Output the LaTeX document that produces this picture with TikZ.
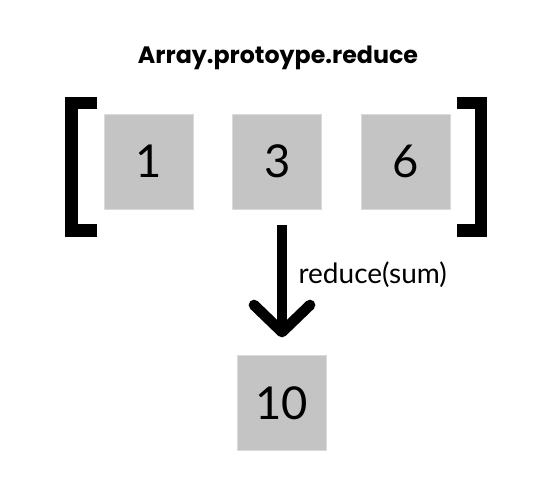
\documentclass[tikz,border=0pt]{standalone}
\usepackage{fontspec}
\setmainfont{Lato}
\newfontfamily\headfont{Poppins}
\usetikzlibrary{positioning}
\definecolor{cellgray}{HTML}{C4C4C4}
\definecolor{celledge}{HTML}{DADADA}

\begin{document}
\begin{tikzpicture}[x=0.75pt, y=-0.75pt,
            cell/.style={fill=cellgray, draw=celledge, line width=0.75pt, minimum width=66.8pt, minimum height=71.4pt, inner sep=0pt, font=\fontsize{34}{34}\selectfont},
            bracket/.style={line width=9.4pt, line join=miter, line cap=butt},
            shaft/.style={line width=7.5pt},
            barb/.style={line width=8pt, line cap=round, line join=round}]
            \useasboundingbox (0,0) rectangle (552,490);

            \node[font=\headfont\bfseries\fontsize{17.8}{17.8}\selectfont, anchor=base, inner sep=0pt] (title) at (278,63.3) {Array.protoype.reduce};

            \node[cell] (one) at (148.8,161.7) {1};
            \node[cell, right=28.9pt of one] (three) {3};
            \node[cell, right=28.9pt of three] (six) {6};
            \node[cell] (ten) at (281.7,402.8) {10};

            \coordinate (LA) at (97,103);
            \coordinate (LB) at (71.25,103);
            \coordinate (LC) at (71.25,230.5);
            \coordinate (LD) at (97,230.5);
            \draw[bracket] (LA) -- (LB) -- (LC) -- (LD);

            \coordinate (RA) at (456.7,103);
            \coordinate (RB) at (481,103);
            \coordinate (RC) at (481,230.5);
            \coordinate (RD) at (456.7,230.5);
            \draw[bracket] (RA) -- (RB) -- (RC) -- (RD);

            \coordinate (from) at (282,225);
            \coordinate (tip) at (282,332);
            \coordinate (barbL) at (254,305);
            \coordinate (barbR) at (310,305);
            \draw[shaft] (from) -- (tip);
            \draw[barb] (barbL) -- (tip) -- (barbR);

            \node[anchor=base west, inner sep=0pt, font=\fontsize{21}{21}\selectfont] (sum) at (298.3,283.3) {reduce(sum)};
        \end{tikzpicture}
\end{document}
